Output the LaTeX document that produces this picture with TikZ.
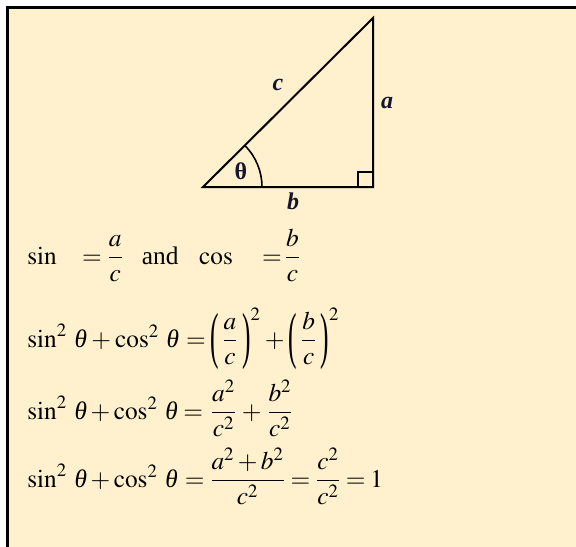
\documentclass[tikz,border=0pt]{standalone}
\usepackage{amsmath}
\usepackage{graphicx}
\usepackage{mathptmx}
\usepackage{fontspec}
\setmainfont{Liberation Serif}
\definecolor{cream}{HTML}{FFF1CE}
\definecolor{labelnavy}{HTML}{15152E}
\newcommand{\thet}{\text{\itshape θ}}
\newcommand{\sqsin}{\sin^2\mspace{3.5mu}\thet+\cos^2\mspace{3.5mu}\thet}
\newcommand{\tallL}{\mathopen{\raisebox{-0.37em}{\scalebox{1}[2.46]{(}}}}
\newcommand{\tallR}{\mathclose{\raisebox{-0.37em}{\scalebox{1}[2.46]{)}}}}
\begin{document}
\begin{tikzpicture}[x=0.75pt,y=-0.75pt,
  edge/.style={line width=1.5pt,black},
  lbl/.style={inner sep=0pt,text=labelnavy,font=\fontsize{18}{20}\selectfont\bfseries\itshape},
  eqn/.style={inner sep=0pt,anchor=base west,font=\fontsize{19}{23}\selectfont}]
\useasboundingbox (0,0) rectangle (576,547);
\fill[cream] (7,7) rectangle (576,547);
\draw[line width=2.25pt] (7.25,547) -- (7.25,7.75) -- (576,7.75);
% triangle
\coordinate (A) at (203,187);
\coordinate (C) at (373,187);
\coordinate (B) at (373,18);
\draw[edge,line join=miter] (A) -- (C) -- (B) -- cycle;
\draw[line width=1.2pt] (358,187) -- (358,172) -- (373,172);
\draw[line width=1.2pt] (262,187) arc[start angle=0,end angle=-44.8,radius=59];
\node[lbl] (lc) at (278,85) {c};
\node[lbl] (la) at (387,103) {a};
\node[lbl] (lb) at (293,201) {b};
\node[lbl,font=\fontsize{18}{20}\selectfont\bfseries] (lt) at (241,171) {θ};
% equations
\node[eqn] (eq1) at (27,264) {$\sin\hspace{14.7pt}=\dfrac{a}{c}$\hspace{14pt}and\hspace{15.5pt}$\cos\hspace{17.7pt}=\mspace{-2mu}\dfrac{b}{c}$};
\node[eqn] (eq2) at (27,347) {\thickmuskip=3mu\medmuskip=3mu$\sqsin\mspace{2mu}=\tallL\mspace{2.5mu}\dfrac{a}{c}\mspace{3mu}\tallR^{2}+\tallL\mspace{2.5mu}\dfrac{b}{c}\mspace{3mu}\tallR^{2}$};
\node[eqn] (eq3) at (27,419) {\nulldelimiterspace=2.6pt$\sqsin=\dfrac{a^2}{c^2}+\dfrac{b^2}{c^2}$};
\node[eqn] (eq4) at (27,487) {\nulldelimiterspace=1.6pt\thickmuskip=3.5mu$\sqsin\mspace{1.5mu}=\dfrac{a^2+b^2}{c^2}=\dfrac{c^2}{c^2}=1$};
\end{tikzpicture}
\end{document}
